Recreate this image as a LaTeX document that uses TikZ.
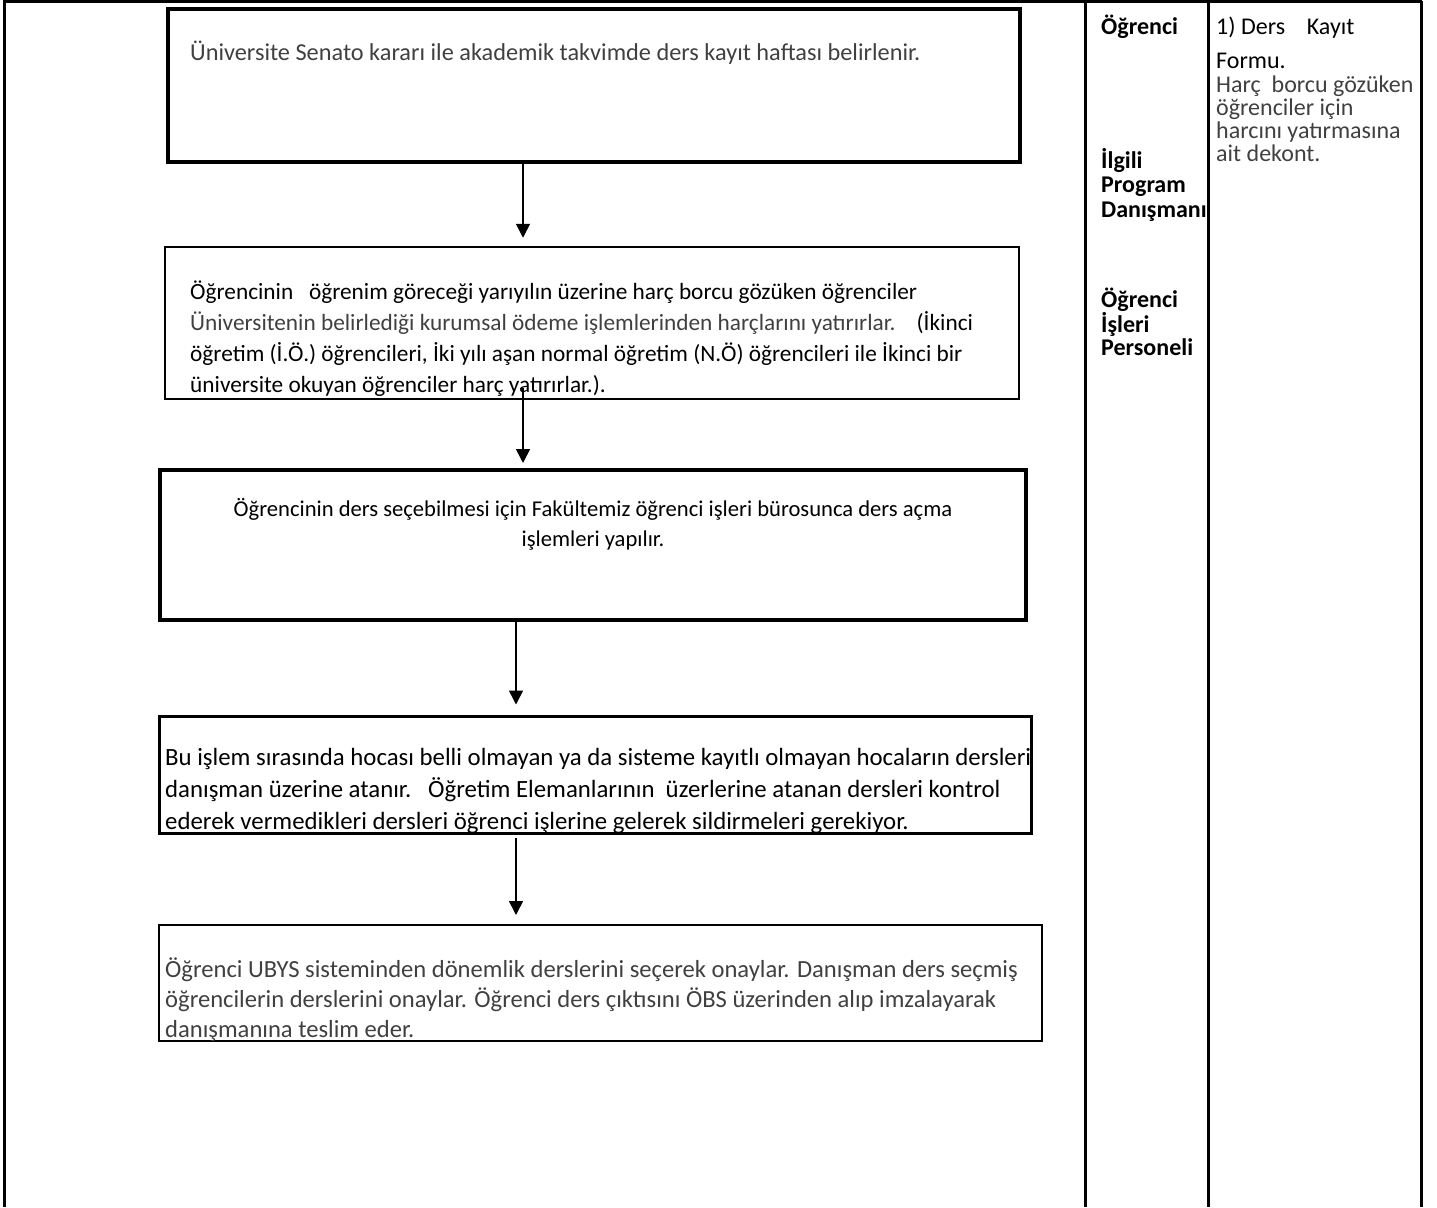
\documentclass[tikz,border=0pt]{standalone}
\usepackage{fontspec}
\setmainfont{Carlito}
\usetikzlibrary{arrows.meta}
\definecolor{yazigri}{HTML}{404040}

\tikzset{
  kutu/.style={draw, rectangle, inner sep=0pt},
  yazi/.style={inner sep=0pt, align=left},
  yan/.style={inner sep=0pt, align=left, font=\bfseries\fontsize{24}{24.5}\selectfont},
  belge/.style={inner sep=0pt, align=left, font=\fontsize{24}{23}\selectfont},
  ok/.style={line width=1.6pt, -{Triangle[width=14pt,length=14pt]}, shorten >=8pt},
}

\begin{document}
\begin{tikzpicture}[x=1pt,y=-1pt]
\useasboundingbox (0,0) rectangle (1437,1207);

% tablo
\draw[line width=3pt] (4,1207) -- (4,1.5) -- (1422,1.5);
\draw[line width=3pt] (1085,1.5) -- (1085,1207);
\draw[line width=3pt] (1208,1.5) -- (1208,1207);
\draw[line width=3pt] (1421,1.5) -- (1421,1207);

\node[kutu, line width=4pt, minimum width=852, minimum height=153] (b1) at (594,85.5) {};
\node[kutu, line width=2.5pt, minimum width=854, minimum height=152] (b2) at (592,323) {};
\node[kutu, line width=4pt, minimum width=866, minimum height=150] (b3) at (593,545) {};
\node[kutu, line width=3pt, minimum width=872, minimum height=117] (b4) at (595,774.5) {};
\node[kutu, line width=2pt, minimum width=883, minimum height=116] (b5) at (600.5,983) {};

% yazilar (cok satirli dugumde base = son satir)
\node[yazi, text=yazigri, font=\fontsize{24.3}{30}\selectfont, anchor=base west] (t1) at (190,61) {Üniversite Senato kararı ile akademik takvimde ders kayıt haftası belirlenir.};
\node[yazi, font=\fontsize{23.3}{31}\selectfont, anchor=base west] (t2) at (190,392) {Öğrencinin\ \ \ öğrenim göreceği yarıyılın üzerine harç borcu gözüken öğrenciler\\
{\color{yazigri}Üniversitenin belirlediği kurumsal ödeme işlemlerinden harçlarını yatırırlar.}\ \ \ \ (İkinci\\
öğretim (İ.Ö.) öğrencileri, İki yılı aşan normal öğretim (N.Ö) öğrencileri ile İkinci bir\\
üniversite okuyan öğrenciler harç yatırırlar.).};
\node[yazi, font=\fontsize{22.6}{30}\selectfont, align=center, anchor=base] (t3) at (593,546) {Öğrencinin ders seçebilmesi için Fakültemiz öğrenci işleri bürosunca ders açma\\
işlemleri yapılır.};
\node[yazi, font=\fontsize{24.8}{32}\selectfont, anchor=base west] (t4) at (165,829) {Bu işlem sırasında hocası belli olmayan ya da sisteme kayıtlı olmayan hocaların dersleri\\
danışman üzerine atanır.\ \ \ Öğretim Elemanlarının\ \ üzerlerine atanan dersleri kontrol\\
ederek vermedikleri dersleri öğrenci işlerine gelerek sildirmeleri gerekiyor.};
\node[yazi, text=yazigri, font=\fontsize{24.6}{30}\selectfont, anchor=base west] (t5) at (165,1037) {Öğrenci UBYS sisteminden dönemlik derslerini seçerek onaylar. Danışman ders seçmiş\\
öğrencilerin derslerini onaylar. Öğrenci ders çıktısını ÖBS üzerinden alıp imzalayarak\\
danışmanına teslim eder.};

\node[yan, anchor=base west] (s1) at (1101,35) {Öğrenci};
\node[yan, anchor=base west] (s2) at (1101,217) {İlgili\\ Program\\ Danışmanı};
\node[yan, font=\bfseries\fontsize{24}{22.5}\selectfont, anchor=base west] (s3) at (1101,355) {Öğrenci\\ İşleri\\ Personeli};

\node[belge, anchor=base west] (d1) at (1216,35) {1) Ders\ \ \ \ Kayıt};
\node[belge, anchor=base west] (d2) at (1216,69) {Formu.};
\node[belge, text=yazigri, anchor=base west] (d3) at (1216,161) {Harç\ \ borcu gözüken\\ öğrenciler için\\ harcını yatırmasına\\ ait dekont.};

\draw[ok] (b1.south -| 523,0) -- (b2.north -| 523,0);
\draw[ok, shorten >=5pt] ([yshift=12pt]b2.south -| 523,0) -- (b3.north -| 523,0);
\draw[ok, shorten >=10pt] (b3.south -| 516,0) -- (b4.north -| 516,0);
\draw[ok, shorten >=9pt] ([yshift=-3pt]b4.south -| 516,0) -- (b5.north -| 516,0);
\end{tikzpicture}
\end{document}
